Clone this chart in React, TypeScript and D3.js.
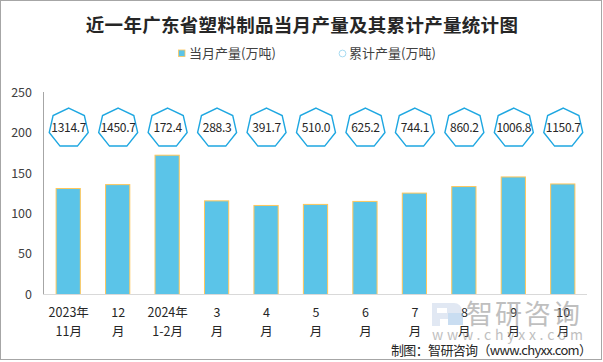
import React from 'react';
import * as d3 from 'd3';

const categories = ['2023年11月', '12月', '2024年1-2月', '3月', '4月', '5月', '6月', '7月', '8月', '9月', '10月'];
const labelLine1 = ['2023年', '12', '2024年', '3', '4', '5', '6', '7', '8', '9', '10'];
const labelLine2 = ['11月', '月', '1-2月', '月', '月', '月', '月', '月', '月', '月', '月'];
const monthly = [131.2, 136.0, 172.4, 115.9, 110.2, 111.5, 115.2, 125.5, 133.6, 145.5, 136.8];
const cumulative = [1314.7, 1450.7, 172.4, 288.3, 391.7, 510.0, 625.2, 744.1, 860.2, 1006.8, 1150.7];
const yTicks = [0, 50, 100, 150, 200, 250];
const markerLevel = 206;

const W = 603;
const H = 362;
const FONT = '"Noto Sans CJK SC", "Liberation Sans", sans-serif';

export default function App() {
  const x = d3.scaleBand<string>().domain(categories).range([43, 587]).paddingInner(0.51).paddingOuter(0.255);
  const y = d3.scaleLinear().domain([0, 250]).range([294.5, 92.5]);
  const R = 20;
  const hept = (cx: number, cy: number) => {
    const pts: [number, number][] = d3.range(7).map((i) => {
      const a = (i * 2 * Math.PI) / 7;
      return [cx + R * Math.sin(a), cy - R * Math.cos(a)];
    });
    return d3.line()(pts.concat([pts[0]])) + 'Z';
  };

  return (
    <svg width={W} height={H} style={{ position: 'absolute', left: 0, top: 0 }} fontFamily={FONT}>
      <rect x={0} y={0} width={W} height={H} fill="#fff" />
      <rect x={0.5} y={0.5} width={601} height={359} fill="none" stroke="#a6a6a6" />
      <text x={302} y={32} textAnchor="middle" fontSize={18.5} fontWeight="bold" fill="#262626" letterSpacing={0.3}>
        近一年广东省塑料制品当月产量及其累计产量统计图
      </text>
      {/* legend */}
      <rect x={178.5} y={50} width={6.5} height={6.5} fill="#5BC4E8" stroke="#FFC65A" strokeWidth={0.8} />
      <text x={189} y={57.5} fontSize={13} fill="#404040">当月产量(万吨)</text>
      <circle cx={342.5} cy={53.5} r={3.4} fill="#fff" stroke="#a8dcf2" strokeWidth={1} />
      <text x={349} y={57.5} fontSize={13} fill="#404040">累计产量(万吨)</text>

      {/* y axis */}
      {yTicks.map((t) => (
        <text key={t} x={32} y={y(t)} dy="0.35em" textAnchor="end" fontSize={12.5} fill="#404040">
          {t}
        </text>
      ))}
      <line x1={43.5} x2={43.5} y1={92} y2={294.5} stroke="#a6a6a6" />

      {/* bars */}
      {categories.map((c, i) => (
        <rect
          key={c}
          x={(x(c) as number) + 0.5}
          y={y(monthly[i])}
          width={x.bandwidth()}
          height={y(0) - y(monthly[i])}
          fill="#5BC4E8"
          stroke="#FFC65A"
          strokeWidth={1}
        />
      ))}
      <line x1={43} x2={587} y1={294.5} y2={294.5} stroke="#d9d9d9" />

      {/* cumulative markers */}
      {categories.map((c, i) => {
        const cx = (x(c) as number) + x.bandwidth() / 2 + 1;
        const cy = y(markerLevel);
        return (
          <g key={c}>
            <path d={hept(cx, cy)} fill="#fff" stroke="#1EA7E1" strokeWidth={1.4} />
            <text x={cx} y={cy} dy="0.36em" textAnchor="middle" fontSize={12} fill="#262626" letterSpacing={-0.3}>
              {cumulative[i].toFixed(1)}
            </text>
          </g>
        );
      })}

      {/* x labels */}
      {categories.map((c, i) => {
        const cx = (x(c) as number) + x.bandwidth() / 2 + 1;
        return (
          <g key={c}>
            <text x={cx} y={317} textAnchor="middle" fontSize={12.5} fill="#262626">{labelLine1[i]}</text>
            <text x={cx} y={336} textAnchor="middle" fontSize={12.5} fill="#262626">{labelLine2[i]}</text>
          </g>
        );
      })}

      {/* watermark */}
      <g opacity={0.55}>
        <path d="M432,303 h22 a8,8 0 0 1 0,16 h-14 v7 h-8 Z" fill="#c9d6ea" />
        <rect x={448} y={313} width={15} height={12} fill="#9ec3e6" />
        <rect x={437} y={308} width={10} height={5} fill="#fff" />
        <text x={466} y={324} fontSize={27} fill="#8c8c8c" letterSpacing={2}>智研咨询</text>
        <text x={432} y={340} fontSize={14} fill="#8c8c8c" textLength={151} lengthAdjust="spacing">www.chyxx.com</text>
      </g>
      <text x={391} y={355} fontSize={13} fill="#262626" textLength={201} lengthAdjust="spacing">
        制图：智研咨询（www.chyxx.com）
      </text>
    </svg>
  );
}
